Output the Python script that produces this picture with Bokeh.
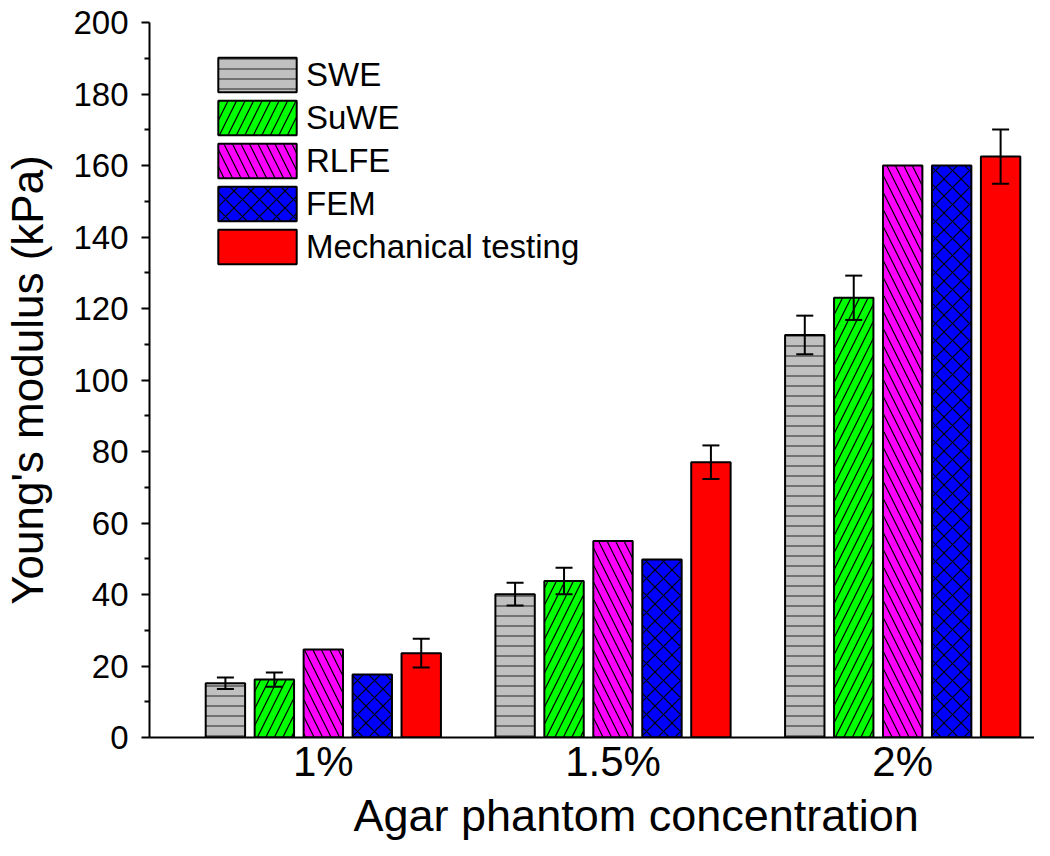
from bokeh.plotting import figure
from bokeh.models import ColumnDataSource, Whisker, TeeHead, FixedTicker, Legend, LegendItem, Title
from bokeh.embed import file_html
from bokeh.resources import INLINE

categories = ["1%", "1.5%", "2%"]
methods = ["SWE", "SuWE", "RLFE", "FEM", "Mechanical testing"]
swe = [15.2, 40.1, 112.6]
swe_err = [1.6, 3.2, 5.4]
suwe = [16.2, 43.8, 123.0]
suwe_err = [2.0, 3.7, 6.2]
rlfe = [24.6, 55.0, 160.0]
fem = [17.6, 49.8, 160.0]
mech = [23.6, 77.0, 162.5]
mech_err = [4.0, 4.7, 7.6]
x_title = "Agar phantom concentration"
y_title = "Young's modulus (kPa)"

values = [swe, suwe, rlfe, fem, mech]
errors = [swe_err, suwe_err, None, None, mech_err]
fills = ["#c0c0c0", "#00ff00", "#ff00ff", "#0000ff", "#ff0000"]
hatches = ["horizontal_line", "right_diagonal_line", "left_diagonal_line", "diagonal_cross", " "]
hatch_colors = ["#3c3c3c", "#000000", "#000000", "#000000", "#000000"]
hatch_scales = [10, 17, 17, 17, 10]

FONT = "Liberation Sans"
W, H = 1034, 840
LEFT, TOP, BOTTOM, RIGHT = 148, 22, 103, 0
frame_h = H - TOP - BOTTOM

p = figure(width=W, height=H, x_range=(0.4, 3.455), y_range=(0, 200),
           output_backend="svg", toolbar_location=None,
           min_border_left=LEFT, min_border_top=TOP, min_border_bottom=BOTTOM, min_border_right=RIGHT)
p.outline_line_color = None
p.grid.visible = False
p.background_fill_color = "white"

group_x = [1, 2, 3]
step = 0.169
bw = 0.136
items = []
for i, (name, vals) in enumerate(zip(methods, values)):
    xs = [g + (i - 2) * step for g in group_x]
    src = ColumnDataSource(dict(x=xs, top=vals))
    r = p.vbar(x="x", top="top", width=bw, source=src, fill_color=fills[i],
               line_color="black", line_width=2,
               hatch_pattern=hatches[i], hatch_color=hatch_colors[i],
               hatch_scale=hatch_scales[i], hatch_weight=1.2)
    items.append(LegendItem(label=name, renderers=[r]))
    if errors[i] is not None:
        esrc = ColumnDataSource(dict(x=xs,
                                     upper=[v + e for v, e in zip(vals, errors[i])],
                                     lower=[v - e for v, e in zip(vals, errors[i])]))
        w = Whisker(base="x", upper="upper", lower="lower", source=esrc, level="overlay",
                    line_color="black", line_width=2,
                    upper_head=TeeHead(size=17, line_width=2, line_color="black"),
                    lower_head=TeeHead(size=17, line_width=2, line_color="black"))
        p.add_layout(w)

GH = 43
leg_h = 5 * GH
legend = Legend(items=items, location=(59, frame_h - 31 - leg_h), orientation="vertical",
                glyph_width=98, glyph_height=GH, spacing=0, padding=0, margin=0,
                label_standoff=0, border_line_color=None, background_fill_alpha=0,
                label_text_font=FONT, label_text_font_size="33px", label_text_color="black")
p.add_layout(legend)

# y axis
p.yaxis.ticker = FixedTicker(ticks=list(range(0, 201, 20)), minor_ticks=list(range(10, 200, 20)))
p.yaxis.axis_label = y_title
p.yaxis.axis_label_text_font = FONT
p.yaxis.axis_label_text_font_size = "44px"
p.yaxis.axis_label_text_font_style = "normal"
p.yaxis.axis_label_text_color = "black"
p.yaxis.major_label_text_font = FONT
p.yaxis.major_label_text_font_size = "33px"
p.yaxis.major_label_text_color = "black"
p.yaxis.axis_line_width = 2
p.yaxis.major_tick_line_width = 2
p.yaxis.minor_tick_line_width = 2
p.yaxis.major_tick_out = 8
p.yaxis.major_tick_in = 0
p.yaxis.minor_tick_out = 5
p.yaxis.minor_tick_in = 0
p.yaxis.major_label_standoff = 13
p.yaxis.axis_label_standoff = 18

# x axis
p.xaxis.ticker = FixedTicker(ticks=group_x)
p.xaxis.major_label_overrides = {g: c for g, c in zip(group_x, categories)}
p.xaxis.major_label_text_font = FONT
p.xaxis.major_label_text_font_size = "42px"
p.xaxis.major_label_text_color = "black"
p.xaxis.axis_line_width = 2
p.xaxis.major_tick_line_color = None
p.xaxis.minor_tick_line_color = None
p.xaxis.major_tick_out = 0
p.xaxis.major_tick_in = 0
p.xaxis.minor_tick_out = 0
p.xaxis.major_label_standoff = 0

xt = Title(text=x_title, align="left", offset=204, text_font=FONT, text_font_size="45px",
           text_font_style="normal", text_color="black", standoff=0, vertical_align="bottom")
p.add_layout(xt, "below")

open("out.html", "w").write(file_html(p, INLINE))
